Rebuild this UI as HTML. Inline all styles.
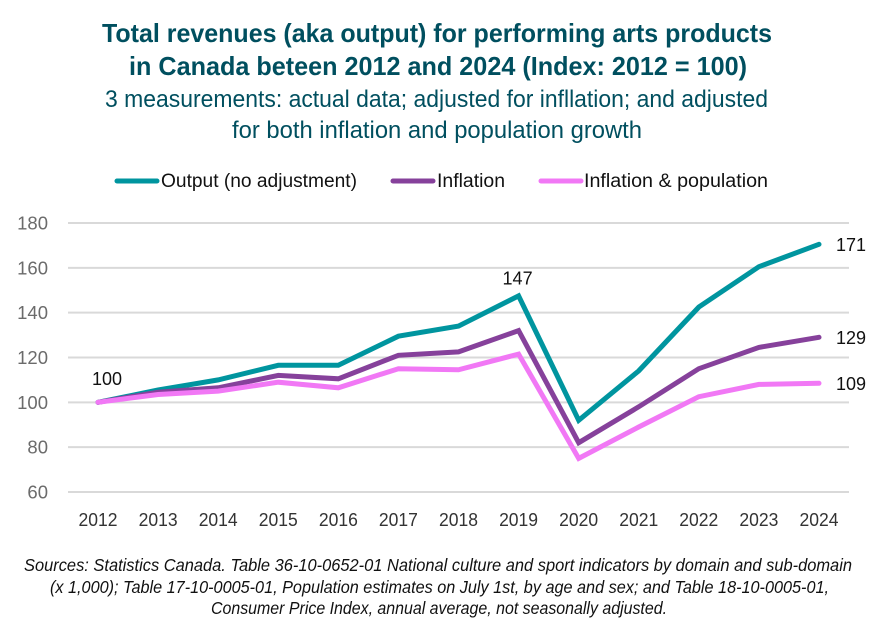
<!DOCTYPE html>
<html lang="en">
<head>
<meta charset="utf-8">
<title>Total revenues for performing arts products in Canada</title>
<style>
html,body{margin:0;padding:0;background:#fff;width:885px;height:634px;overflow:hidden}
svg{display:block}
text{font-family:"Liberation Sans",sans-serif}
</style>
</head>
<body>
<svg id="chart" width="885" height="634" viewBox="0 0 885 634" xmlns="http://www.w3.org/2000/svg">
  <rect width="885" height="634" fill="#fff"/>
  <g fill="#004F5F" font-weight="bold" font-size="26">
    <text x="102" y="42" textLength="670" lengthAdjust="spacingAndGlyphs">Total revenues (aka output) for performing arts products</text>
    <text x="129" y="75" textLength="618" lengthAdjust="spacingAndGlyphs">in Canada beteen 2012 and 2024 (Index: 2012 = 100)</text>
  </g>
  <g fill="#004F5F" font-size="24.5">
    <text x="105" y="107" textLength="663" lengthAdjust="spacingAndGlyphs">3 measurements: actual data; adjusted for infllation; and adjusted</text>
    <text x="232" y="138" textLength="410" lengthAdjust="spacingAndGlyphs">for both inflation and population growth</text>
  </g>
  <g id="legend"></g>
  <g id="grid"></g>
  <g id="yaxis"></g>
  <g id="xaxis"></g>
  <g id="series"></g>
  <g id="labels"></g>
  <g fill="#111" font-size="17.5" font-style="italic">
    <text x="24" y="571" textLength="828" lengthAdjust="spacingAndGlyphs">Sources: Statistics Canada. Table 36-10-0652-01  National culture and sport indicators by domain and sub-domain</text>
    <text x="50" y="593" textLength="779" lengthAdjust="spacingAndGlyphs">(x 1,000); Table 17-10-0005-01, Population estimates on July 1st, by age and sex; and Table 18-10-0005-01,</text>
    <text x="211" y="614" textLength="456" lengthAdjust="spacingAndGlyphs">Consumer Price Index, annual average, not seasonally adjusted.</text>
  </g>
</svg>
<script>
const years = [2012,2013,2014,2015,2016,2017,2018,2019,2020,2021,2022,2023,2024];
const yTicks = [60,80,100,120,140,160,180];
const outputValues = [100,105.5,110,116.5,116.5,129.5,134,147.5,92,114,142.5,160.5,170.5];
const inflationValues = [100,104.5,106.5,112,110.5,121,122.5,132,82,98,115,124.5,129];
const populationValues = [100,103.5,105,109,106.5,115,114.5,121.5,75,89,102.5,108,108.5];
const seriesNames = ['Output (no adjustment)','Inflation','Inflation & population'];
const printedLabels = ['100','147','171','129','109'];

const NS = 'http://www.w3.org/2000/svg';
const plotLeft = 68, plotRight = 849, plotBottom = 492, plotTop = 223, yMin = 60, yMax = 180;
function xScale(i){ return plotLeft + (plotRight - plotLeft) * (i + 0.5) / years.length; }
function yScale(v){ return plotBottom - (v - yMin) * (plotBottom - plotTop) / (yMax - yMin); }
function make(tag, parentId, attrs, txt){
  const el = document.createElementNS(NS, tag);
  for (const k in attrs) el.setAttribute(k, attrs[k]);
  if (txt !== undefined) el.textContent = txt;
  document.getElementById(parentId).appendChild(el);
  return el;
}

yTicks.forEach(function(t){
  const g = make('line', 'grid', {x1:plotLeft, x2:plotRight, y1:yScale(t), y2:yScale(t), stroke:'#D9D9D9', 'stroke-width':2});
  
  
  const l = make('text', 'yaxis', {x:48, y:yScale(t) + 6.5, 'text-anchor':'end', 'font-size':18.5, fill:'#6B6B6B'}, String(t));
  
  
});

years.forEach(function(y, i){
  const l = make('text', 'xaxis', {x:xScale(i), y:526, 'text-anchor':'middle', 'font-size':18, fill:'#333', textLength:39, lengthAdjust:'spacingAndGlyphs'}, String(y));
  
  
});

const seriesValues = [outputValues, inflationValues, populationValues];
const seriesColors = ['#00959F', '#86419B', '#F178F5'];
const seriesIds = ['output', 'inflation', 'population'];
seriesValues.forEach(function(vals, s){
  const pts = vals.map(function(v, i){ return xScale(i).toFixed(1) + ',' + yScale(v).toFixed(1); }).join(' ');
  const p = make('polyline', 'series', {points:pts, fill:'none', stroke:seriesColors[s], 'stroke-width':5, 'stroke-linecap':'round', 'stroke-linejoin':'miter'});
  
  
});

const legendLineX = [115, 391, 539];
const legendTextX = [161, 437, 584];
const legendTextW = [196, 68, 184];
seriesNames.forEach(function(n, s){
  const l = make('line', 'legend', {x1:legendLineX[s] + 2, x2:legendLineX[s] + 42, y1:181, y2:181, stroke:seriesColors[s], 'stroke-width':5, 'stroke-linecap':'round'});
  
  
  const t = make('text', 'legend', {x:legendTextX[s], y:187, 'font-size':19, fill:'#111', textLength:legendTextW[s], lengthAdjust:'spacingAndGlyphs'}, n);
  
  
});

const lab0 = make('text', 'labels', {x:xScale(0) + 9, y:yScale(outputValues[0]) - 17.5, 'text-anchor':'middle', 'font-size':18, fill:'#111'}, printedLabels[0]);


const lab1 = make('text', 'labels', {x:xScale(7) - 1, y:yScale(outputValues[7]) - 11.5, 'text-anchor':'middle', 'font-size':18, fill:'#111'}, printedLabels[1]);


[outputValues, inflationValues, populationValues].forEach(function(vals, s){
  const t = make('text', 'labels', {x:836, y:yScale(vals[12]) + 6.5, 'font-size':18, fill:'#111'}, printedLabels[s + 2]);
  
  
});
</script>
</body>
</html>
